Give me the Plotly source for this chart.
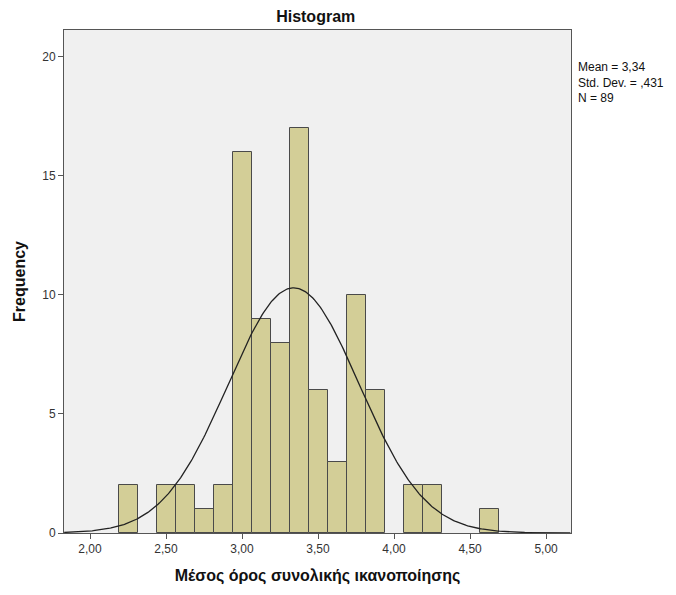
import numpy as np
import plotly.graph_objects as go

# Data (bin centers, width 0.125)
bin_centers = [2.25, 2.5, 2.625, 2.75, 2.875, 3.0, 3.125, 3.25, 3.375, 3.5,
               3.625, 3.75, 3.875, 4.125, 4.25, 4.625]
frequencies = [2, 2, 2, 1, 2, 16, 9, 8, 17, 6, 3, 10, 6, 2, 2, 1]
bin_width = 0.125
mean_val = 3.34
std_val = 0.431
n_val = 89

x_tickvals = [2.0, 2.5, 3.0, 3.5, 4.0, 4.5, 5.0]
x_ticktext = ["2,00", "2,50", "3,00", "3,50", "4,00", "4,50", "5,00"]
y_tickvals = [0, 5, 10, 15, 20]

# Normal curve from the stated parameters
xc = np.linspace(1.83, 5.16, 400)
yc = n_val * bin_width / (std_val * np.sqrt(2 * np.pi)) * np.exp(-0.5 * ((xc - mean_val) / std_val) ** 2)

fig = go.Figure()
fig.add_trace(go.Bar(
    x=bin_centers, y=frequencies, width=bin_width,
    marker=dict(color="#d3ce97", line=dict(color="#4a4a4a", width=1)),
    showlegend=False, hoverinfo="x+y",
))
fig.add_trace(go.Scatter(
    x=xc, y=yc, mode="lines",
    line=dict(color="#222222", width=1.3), showlegend=False,
))

font_family = "Liberation Sans, Arial, sans-serif"
fig.update_layout(
    width=676, height=595,
    margin=dict(l=64, r=105, t=30, b=62),
    paper_bgcolor="white", plot_bgcolor="#f0f0f0",
    font=dict(family=font_family, color="#222222", size=12),
    bargap=0,
    title=dict(text="<b>Histogram</b>", x=0.467, xanchor="center",
               y=0.973, yanchor="middle", font=dict(size=16, color="#111111")),
    xaxis=dict(
        range=[1.829, 5.164], tickvals=x_tickvals, ticktext=x_ticktext,
        ticks="outside", ticklen=5, tickcolor="#555555",
        showline=True, linecolor="#555555", linewidth=1, mirror=True,
        showgrid=False, zeroline=False,
        tickfont=dict(size=12, color="#333333"),
        title=dict(text="<b>Μέσος όρος συνολικής ικανοποίησης</b>",
                   font=dict(size=16, color="#111111"), standoff=14),
    ),
    yaxis=dict(
        range=[0, 21.13], tickvals=y_tickvals,
        ticks="outside", ticklen=5, tickcolor="#555555",
        showline=True, linecolor="#555555", linewidth=1, mirror=True,
        showgrid=False, zeroline=False,
        tickfont=dict(size=12, color="#333333"),
        title=dict(text="<b>Frequency</b>", font=dict(size=16, color="#111111"),
                   standoff=12),
    ),
    annotations=[dict(
        text=f"Mean = 3,34<br>Std. Dev. = ,431<br>N = {n_val}",
        xref="paper", yref="paper", x=1.01, y=0.945,
        xanchor="left", yanchor="top", align="left", showarrow=False,
        font=dict(size=12, color="#111111"),
    )],
)

fig.write_html("out.html")
